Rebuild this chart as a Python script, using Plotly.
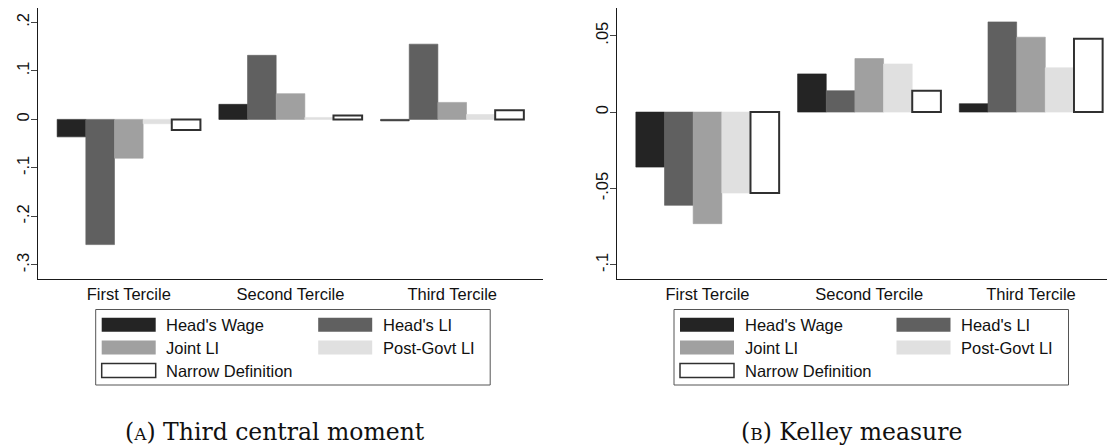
import plotly.graph_objects as go

# ---- data -------------------------------------------------------------
categories = ["First Tercile", "Second Tercile", "Third Tercile"]
series_names = ["Head's Wage", "Head's LI", "Joint LI", "Post-Govt LI", "Narrow Definition"]

# (A) third central moment
moment_heads_wage = [-0.036, 0.031, -0.003]
moment_heads_li = [-0.258, 0.132, 0.155]
moment_joint_li = [-0.080, 0.053, 0.035]
moment_post_govt_li = [-0.009, 0.004, 0.010]
moment_narrow = [-0.022, 0.008, 0.019]

# (B) Kelley measure
kelley_heads_wage = [-0.036, 0.025, 0.0055]
kelley_heads_li = [-0.061, 0.014, 0.059]
kelley_joint_li = [-0.073, 0.035, 0.049]
kelley_post_govt_li = [-0.053, 0.0315, 0.029]
kelley_narrow = [-0.053, 0.014, 0.048]

moment_ticks = [-0.3, -0.2, -0.1, 0, 0.1, 0.2]
moment_tick_text = ["-.3", "-.2", "-.1", "0", ".1", ".2"]
kelley_ticks = [-0.1, -0.05, 0, 0.05]
kelley_tick_text = ["-.1", "-.05", "0", ".05"]

# ---- styling ----------------------------------------------------------
W, H = 1107, 447
fills = ["#242424", "#606060", "#a0a0a0", "#e0e0e0", "#ffffff"]
edges = ["#242424", "#606060", "#a0a0a0", "#e0e0e0", "#303030"]
edge_w = [0.6, 0.6, 0.6, 0.6, 2.0]
SANS = "Liberation Sans, Arial, sans-serif"
SERIF = "DejaVu Serif, serif"
FS = 16.5


def px(x):
    return x / W


def py(y):
    return 1 - y / H


fig = go.Figure()

panels = [
    ("x", "y", [moment_heads_wage, moment_heads_li, moment_joint_li,
                moment_post_govt_li, moment_narrow]),
    ("x2", "y2", [kelley_heads_wage, kelley_heads_li, kelley_joint_li,
                  kelley_post_govt_li, kelley_narrow]),
]
for xa, ya, values in panels:
    for name, vals, fc, ec, lw in zip(series_names, values, fills, edges, edge_w):
        fig.add_trace(go.Bar(
            x=categories, y=vals, name=name, xaxis=xa, yaxis=ya,
            marker=dict(color=fc, line=dict(color=ec, width=lw)),
            showlegend=False,
        ))

axis_common = dict(
    showline=True, linecolor="#1a1a1a", linewidth=1, showgrid=False,
    zeroline=False, tickfont=dict(family=SANS, size=FS, color="#111"),
)
yaxis_common = dict(tickangle=-90, ticks="outside", ticklen=6, tickcolor="#444",
                    ticklabelstandoff=-5)

plot_top, plot_bottom = 8, 279.3
fig.update_layout(
    width=W, height=H, margin=dict(l=0, r=0, t=0, b=0),
    paper_bgcolor="white", plot_bgcolor="white",
    barmode="group", bargap=0.114, bargroupgap=0,
    xaxis=dict(domain=[px(38), px(543)], range=[-0.5615, 2.5615],
               ticks="", anchor="y", **axis_common),
    yaxis=dict(domain=[py(plot_bottom), py(plot_top)], range=[-0.3295, 0.2295],
               tickvals=moment_ticks, ticktext=moment_tick_text, anchor="x",
               **yaxis_common, **axis_common),
    xaxis2=dict(domain=[px(616.7), 1.0], range=[-0.5614, 2.47],
                ticks="", anchor="y2", **axis_common),
    yaxis2=dict(domain=[py(plot_bottom), py(plot_top)], range=[-0.1094, 0.0681],
                tickvals=kelley_ticks, ticktext=kelley_tick_text, anchor="x2",
                **yaxis_common, **axis_common),
)

# ---- legends (one boxed key under each panel) -------------------------
shapes, annotations = [], []
legend_left = [95.7, 674.0]
box_top, box_bottom = 309.5, 385.0
row_y = [324.8, 347.5, 370.5]
slots = [(0, 0), (0, 1), (1, 0), (1, 1), (2, 0)]  # (row, column) per series
for L in legend_left:
    shapes.append(dict(type="rect", xref="paper", yref="paper",
                       x0=px(L), x1=px(L + 394.5), y0=py(box_bottom), y1=py(box_top),
                       line=dict(color="#555", width=1), fillcolor="white", layer="below"))
    for i, name in enumerate(series_names):
        r, c = slots[i]
        sx = L + 6 + c * 216.5
        cy = row_y[r]
        lw = 1.5 if i == 4 else 0
        shapes.append(dict(type="rect", xref="paper", yref="paper",
                           x0=px(sx), x1=px(sx + 54), y0=py(cy + 7), y1=py(cy - 7),
                           fillcolor=fills[i],
                           line=dict(color=edges[i], width=lw)))
        annotations.append(dict(text=name, xref="paper", yref="paper",
                                x=px(sx + 62.5), y=py(cy), xanchor="left", yanchor="middle",
                                showarrow=False,
                                font=dict(family=SANS, size=FS, color="#111")))

# ---- panel captions ----------------------------------------------------
captions = [("(<span style='font-size:17px'>A</span>) Third central moment", 275),
            ("(<span style='font-size:17px'>B</span>) Kelley measure", 851)]
for text, cx in captions:
    annotations.append(dict(text=text, xref="paper", yref="paper",
                            x=px(cx), y=py(432), xanchor="center", yanchor="middle",
                            showarrow=False,
                            font=dict(family=SERIF, size=23.5, color="#111")))

fig.update_layout(shapes=shapes, annotations=annotations)
fig.write_html("out.html")
